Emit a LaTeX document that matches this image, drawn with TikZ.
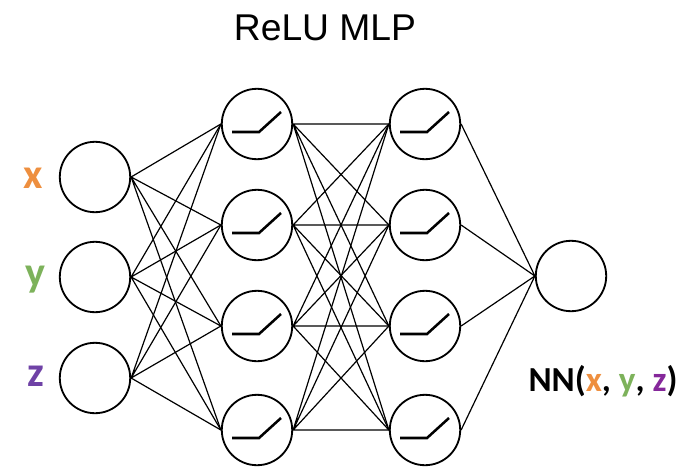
\documentclass[tikz,border=0pt]{standalone}
\usepackage{fontspec}
\usepackage{xcolor}
\setmainfont{Liberation Sans}
\newfontfamily\labelfont[BoldFont={Carlito Bold}]{Carlito}
\definecolor{xorange}{HTML}{EE8F3F}
\definecolor{ygreen}{HTML}{7DB25B}
\definecolor{zpurple}{HTML}{6F42A6}
\definecolor{zviolet}{HTML}{85279A}
\tikzset{neuron/.style={circle,draw,line width=1.3pt,inner sep=0pt,minimum size=1.76cm},
 link/.style={line width=.85pt},
 ramp/.style={line width=1.8pt},
 varlabel/.style={font=\labelfont\bfseries\fontsize{30}{30}\selectfont},
 }

\begin{document}
\begin{tikzpicture}[x=.025cm,y=-.025cm]
        \useasboundingbox (0, 0) rectangle (688, 467);
        \node [font=\fontsize{26.5}{26.5}\selectfont] (title) at (325, 28) {ReLU MLP};
        \node [neuron] (in1) at (95, 177) {};
        \node [neuron] (in2) at (95, 277) {};
        \node [neuron] (in3) at (95, 378) {};
        \node [neuron] (a1) at (257, 124) {};
        \node [neuron] (a2) at (257, 225) {};
        \node [neuron] (a3) at (257, 326) {};
        \node [neuron] (a4) at (257, 430) {};
        \node [neuron] (b1) at (425, 124) {};
        \node [neuron] (b2) at (425, 225) {};
        \node [neuron] (b3) at (425, 326) {};
        \node [neuron] (b4) at (425, 430) {};
        \node [neuron] (out) at (571, 276) {};
        \node [varlabel, text=xorange] (xlabel) at (33, 178) {x};
        \node [varlabel, text=ygreen] (ylabel) at (35, 280) {y};
        \node [varlabel, text=zpurple] (zlabel) at (36, 376) {z};
        \node [font=\labelfont\bfseries\fontsize{25}{25}\selectfont] (nn) at (603, 381) {NN(\textcolor{xorange}{x}, \textcolor{ygreen}{y}, \textcolor{zviolet}{z})};
        \draw [link] (in1.east) -- (a1.west) (in1.east) -- (a2.west) (in1.east) -- (a3.west) (in1.east) -- (a4.west);
        \draw [link] (in2.east) -- (a1.west) (in2.east) -- (a2.west) (in2.east) -- (a3.west) (in2.east) -- (a4.west);
        \draw [link] (in3.east) -- (a1.west) (in3.east) -- (a2.west) (in3.east) -- (a3.west) (in3.east) -- (a4.west);
        \draw [link] (a1.east) -- (b1.west) (a1.east) -- (b2.west) (a1.east) -- (b3.west) (a1.east) -- (b4.west);
        \draw [link] (a2.east) -- (b1.west) (a2.east) -- (b2.west) (a2.east) -- (b3.west) (a2.east) -- (b4.west);
        \draw [link] (a3.east) -- (b1.west) (a3.east) -- (b2.west) (a3.east) -- (b3.west) (a3.east) -- (b4.west);
        \draw [link] (a4.east) -- (b1.west) (a4.east) -- (b2.west) (a4.east) -- (b3.west) (a4.east) -- (b4.west);
        \draw [link] (b1.east) -- (out.west) (b2.east) -- (out.west) (b3.east) -- (out.west) (b4.east) -- (out.west);
        \draw [ramp] (a1) ++(-25, 8) -- ++(27, 0) -- ++(22, -20);
        \draw [ramp] (a2) ++(-25, 8) -- ++(27, 0) -- ++(22, -20);
        \draw [ramp] (a3) ++(-25, 8) -- ++(27, 0) -- ++(22, -20);
        \draw [ramp] (a4) ++(-25, 8) -- ++(27, 0) -- ++(22, -20);
        \draw [ramp] (b1) ++(-25, 8) -- ++(27, 0) -- ++(22, -20);
        \draw [ramp] (b2) ++(-25, 8) -- ++(27, 0) -- ++(22, -20);
        \draw [ramp] (b3) ++(-25, 8) -- ++(27, 0) -- ++(22, -20);
        \draw [ramp] (b4) ++(-25, 8) -- ++(27, 0) -- ++(22, -20);
    \end{tikzpicture}
\end{document}
